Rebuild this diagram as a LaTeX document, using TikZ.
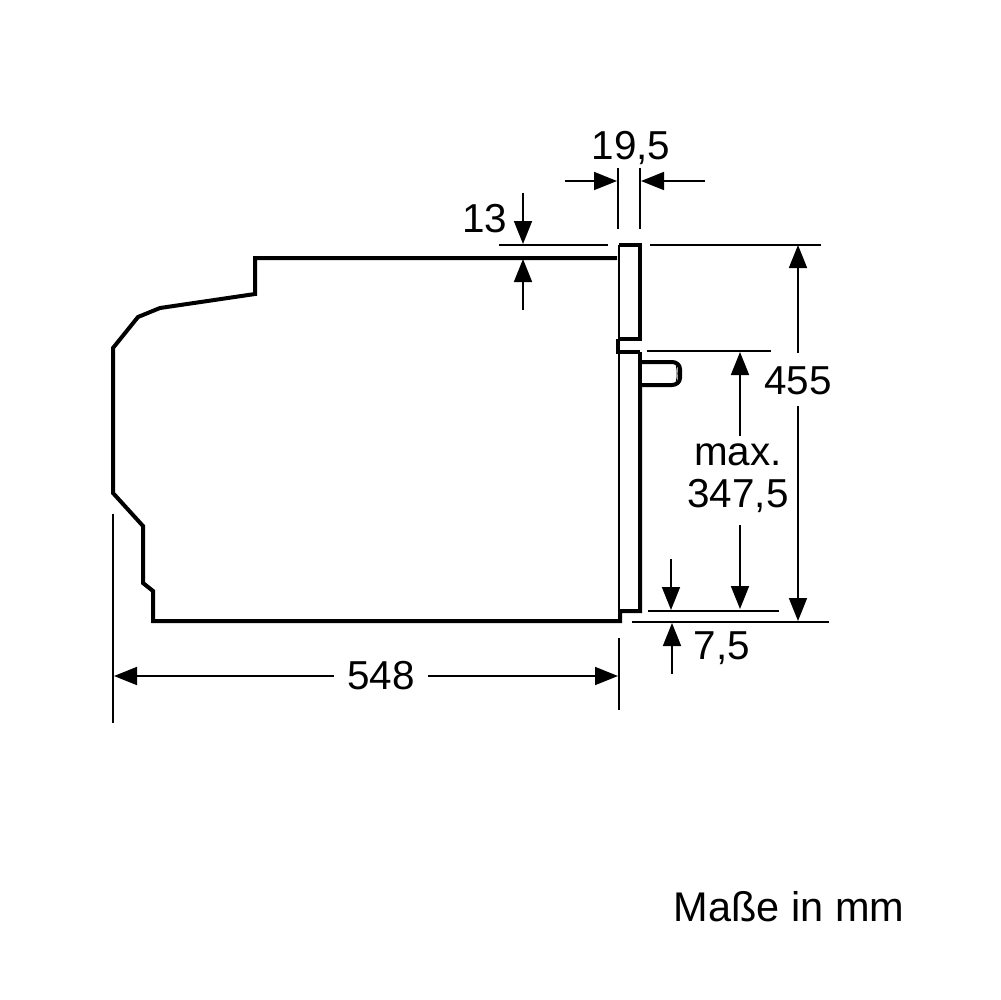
\documentclass[tikz,border=0pt]{standalone}
\usepackage{fontspec}
\setmainfont{Liberation Sans}
\usetikzlibrary{arrows.meta}
\def\ovenbody{(617,258) -- (255,258) -- (255,294) -- (160,308) -- (138,317) -- (113,348) -- (113,493) -- (143,526) -- (143,583) -- (153,591) -- (153,621) -- (620,621) -- (620,611) -- (640,611) -- (640,385)}
\def\ovenpanel{(619,339) -- (640,339) -- (640,245) -- (619,245)}
\def\ovendoor{(640,352) -- (618,352) -- (618,339)}
\def\ovenknob{(640,362) -- (672,362) to[out=0,in=90] (680,369) -- (680,378) to[out=-90,in=0] (672,385) -- (640,385)}
\tikzset{heavy/.style={line width=0.4mm, line join=miter},
    medium/.style={line width=0.2mm},
    dimline/.style={line width=0.17mm},
    dimarrow/.style={line width=0.17mm, -{Triangle[length=2.3mm,width=1.8mm]}},
    dimlabel/.style={font=\fontsize{11.5}{12}\selectfont, inner sep=0pt, align=center}}

\begin{document}
\begin{tikzpicture}[x=0.1mm,y=-0.1mm]
    \useasboundingbox (0,0) rectangle (1000,1000);
    % oven outline
    \draw[heavy] \ovenbody;
    \draw[heavy] \ovenpanel;
    \draw[heavy] \ovendoor;
    \draw[heavy] (640,352) -- (640,385);
    \draw[heavy] \ovenknob;
    \draw[medium] (619,245) -- (619,339);
    \draw[medium] (619,352) -- (619,611);
    \draw[line width=0.08mm] (676,364) to[bend left=12] (676,383);
    % extension lines
    \coordinate (top a) at (499,245);
    \coordinate (top b) at (608,245);
    \coordinate (top c) at (650,245);
    \coordinate (top d) at (821,245);
    \coordinate (bot a) at (632,622);
    \coordinate (bot b) at (829,622);
    \coordinate (gap a) at (648,611);
    \coordinate (gap b) at (779,611);
    \coordinate (max a) at (647,351);
    \coordinate (max b) at (771,351);
    \coordinate (left a) at (113,514);
    \coordinate (left b) at (113,723);
    \coordinate (right a) at (619,638);
    \coordinate (right b) at (619,710);
    \coordinate (frame a) at (618,168);
    \coordinate (frame b) at (618,229);
    \coordinate (frame c) at (640,168);
    \coordinate (frame d) at (640,229);
    \draw[dimline] (top a) -- (top b);
    \draw[dimline] (top c) -- (top d);
    \draw[dimline] (bot a) -- (bot b);
    \draw[dimline] (gap a) -- (gap b);
    \draw[dimline] (max a) -- (max b);
    \draw[dimline] (left a) -- (left b);
    \draw[dimline] (right a) -- (right b);
    \draw[dimline] (frame a) -- (frame b);
    \draw[dimline] (frame c) -- (frame d);
    % labels
    \node[dimlabel] (frame label) at (631,148) {19,5};
    \node[dimlabel] (step label) at (485,219) {13};
    \node[dimlabel] (height label) at (798,381) {455};
    \node[dimlabel] (max label) at (738,478) {max.\\347,5};
    \node[dimlabel] (gap label) at (722,648) {7,5};
    \node[dimlabel, inner xsep=1.3mm] (width label) at (381,676) {548};
    \node[dimlabel, font=\fontsize{11.8}{12}\selectfont] (unit label) at (789,907) {Maße in mm};
    % dimension arrows
    \coordinate (frame l0) at (565,181);
    \coordinate (frame l1) at (617,181);
    \coordinate (frame r0) at (705,181);
    \coordinate (frame r1) at (641,181);
    \draw[dimarrow] (frame l0) -- (frame l1);
    \draw[dimarrow] (frame r0) -- (frame r1);
    \coordinate (step t0) at (523,193);
    \coordinate (step t1) at (523,244);
    \coordinate (step b0) at (523,310);
    \coordinate (step b1) at (523,259);
    \draw[dimarrow] (step t0) -- (step t1);
    \draw[dimarrow] (step b0) -- (step b1);
    \coordinate (height t0) at (798,353);
    \coordinate (height t1) at (798,245);
    \coordinate (height b0) at (798,406);
    \coordinate (height b1) at (798,621);
    \draw[dimarrow] (height t0) -- (height t1);
    \draw[dimarrow] (height b0) -- (height b1);
    \coordinate (max t0) at (740,436);
    \coordinate (max t1) at (740,352);
    \coordinate (max b0) at (740,525);
    \coordinate (max b1) at (740,609);
    \draw[dimarrow] (max t0) -- (max t1);
    \draw[dimarrow] (max b0) -- (max b1);
    \coordinate (gap t0) at (671,559);
    \coordinate (gap t1) at (671,610);
    \coordinate (gap b0) at (672,674);
    \coordinate (gap b1) at (672,623);
    \draw[dimarrow] (gap t0) -- (gap t1);
    \draw[dimarrow] (gap b0) -- (gap b1);
    \coordinate (width l) at (114,676);
    \coordinate (width r) at (618,676);
    \draw[dimarrow] (width label.west) -- (width l);
    \draw[dimarrow] (width label.east) -- (width r);
\end{tikzpicture}
\end{document}
